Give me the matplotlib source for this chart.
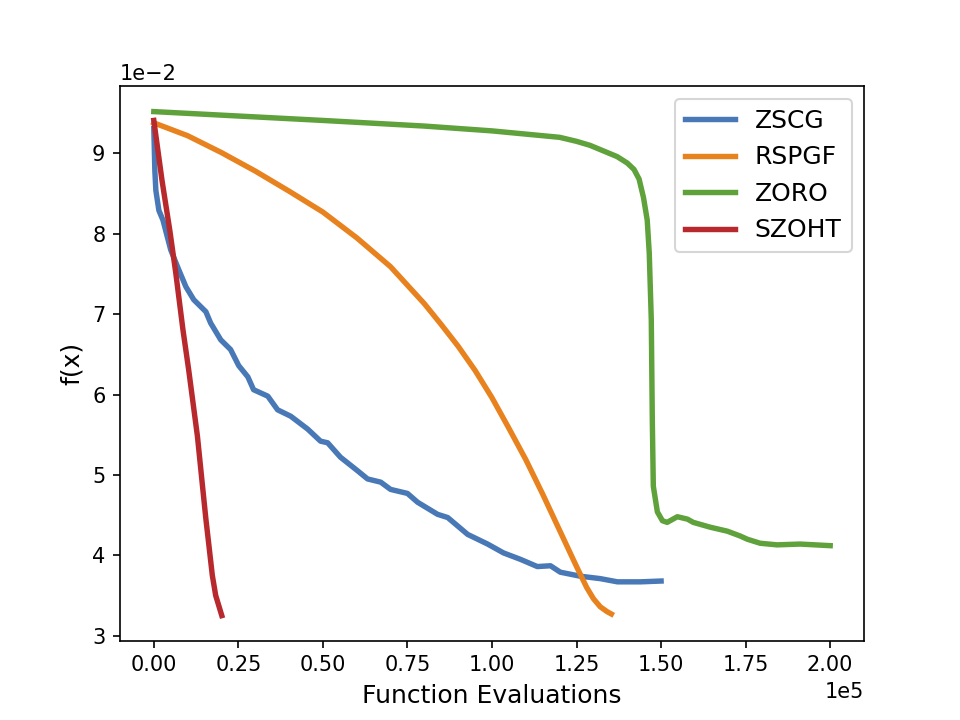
import matplotlib
matplotlib.use('Agg')
import matplotlib.pyplot as plt
import numpy as np

# DATA (x in units of 1e5 evaluations, y in units of 1e-2)
x_scale = 1e5
y_scale = 1e-2

zscg_x = [0.0, 0.003, 0.006, 0.015, 0.027, 0.050, 0.074, 0.095, 0.118, 0.154,
          0.168, 0.198, 0.227, 0.251, 0.278, 0.295, 0.337, 0.366, 0.405, 0.455,
          0.493, 0.514, 0.552, 0.603, 0.632, 0.671, 0.700, 0.750, 0.780, 0.839,
          0.869, 0.928, 0.987, 1.034, 1.084, 1.134, 1.173, 1.202, 1.261, 1.320,
          1.371, 1.439, 1.50]
zscg_y = [9.31, 8.79, 8.54, 8.29, 8.17, 7.80, 7.55, 7.34, 7.18, 7.03,
          6.89, 6.68, 6.56, 6.36, 6.22, 6.06, 5.98, 5.81, 5.73, 5.57,
          5.42, 5.40, 5.22, 5.05, 4.95, 4.91, 4.82, 4.77, 4.66, 4.51,
          4.47, 4.26, 4.14, 4.03, 3.95, 3.86, 3.87, 3.79, 3.74, 3.71,
          3.67, 3.67, 3.68]

rspgf_x = [0.0, 0.1, 0.2, 0.3, 0.4, 0.5, 0.6, 0.7, 0.75, 0.8,
           0.85, 0.9, 0.95, 1.0, 1.05, 1.1, 1.15, 1.2, 1.25, 1.28,
           1.30, 1.32, 1.34, 1.353]
rspgf_y = [9.38, 9.22, 9.01, 8.78, 8.53, 8.27, 7.95, 7.59, 7.36, 7.13,
           6.87, 6.60, 6.30, 5.96, 5.58, 5.19, 4.76, 4.31, 3.86, 3.60,
           3.46, 3.36, 3.30, 3.27]

zoro_x = [0.0, 0.5, 0.8, 1.0, 1.1, 1.2, 1.25, 1.29, 1.33, 1.37,
          1.40, 1.42, 1.435, 1.448, 1.459, 1.465, 1.471, 1.474, 1.477, 1.489,
          1.504, 1.518, 1.548, 1.578, 1.595, 1.645, 1.696, 1.734, 1.755, 1.793,
          1.843, 1.911, 2.0]
zoro_y = [9.52, 9.41, 9.34, 9.28, 9.24, 9.20, 9.15, 9.10, 9.03, 8.96,
          8.88, 8.80, 8.68, 8.45, 8.17, 7.76, 6.93, 5.69, 4.86, 4.54,
          4.43, 4.41, 4.48, 4.45, 4.41, 4.35, 4.30, 4.24, 4.20, 4.15,
          4.13, 4.14, 4.12]

szoht_x = [0.0, 0.024, 0.047, 0.065, 0.086, 0.103, 0.129, 0.144, 0.154, 0.163,
           0.173, 0.183, 0.201]
szoht_y = [9.41, 8.67, 8.05, 7.51, 6.81, 6.31, 5.48, 4.86, 4.45, 4.12,
           3.75, 3.50, 3.25]

series = [
    ('ZSCG', zscg_x, zscg_y, '#4878b6'),
    ('RSPGF', rspgf_x, rspgf_y, '#e8821e'),
    ('ZORO', zoro_x, zoro_y, '#5fa13b'),
    ('SZOHT', szoht_x, szoht_y, '#b8292e'),
]

fig, ax = plt.subplots(figsize=(6.4, 4.8), dpi=150)

for name, xs, ys, color in series:
    ax.plot(np.array(xs) * x_scale, np.array(ys) * y_scale,
            color=color, linewidth=2.6, label=name)

ax.ticklabel_format(style='sci', axis='both', scilimits=(0, 0))
ax.set_xlabel('Function Evaluations', fontsize=12)
ax.set_ylabel('f(x)', fontsize=12)
ax.legend(loc='upper right', fontsize=12)

plt.savefig('out.png', dpi=150)
